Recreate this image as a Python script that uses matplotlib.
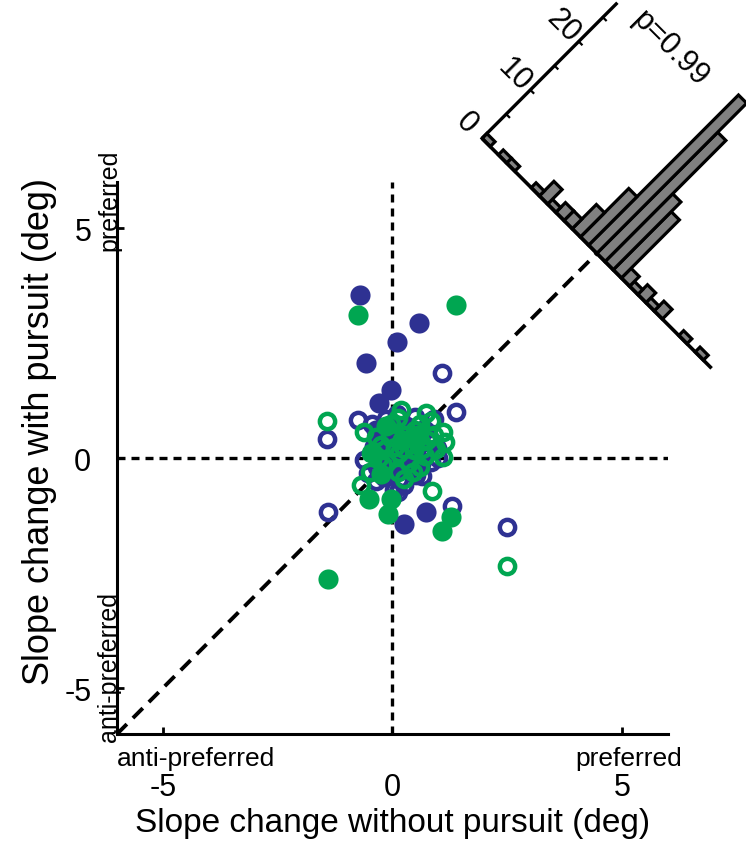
import numpy as np
import matplotlib
matplotlib.use("Agg")
import matplotlib.pyplot as plt
from matplotlib.patches import Rectangle
from matplotlib.transforms import Affine2D

plt.rcParams['font.family'] = ['Liberation Sans', 'DejaVu Sans']
plt.rcParams['axes.unicode_minus'] = False

BLUE = '#2E3192'
GREEN = '#00A651'

# filled circles
fb_x = [-0.71, 0.58, 0.09, -0.57, -0.04, -0.30, 0.25, 0.72, -0.25, 0.05, 0.20, -0.40, 0.35, -0.10, 0.50, 0.10,
        0.30, 0.00, -0.20, 0.15, 0.40, -0.35, 0.25, 0.00]
fb_y = [3.54, 2.93, 2.53, 2.07, 1.48, 1.20, -1.43, -1.17, 0.55, 0.35, 0.15, 0.25, 0.50, 0.00, 0.25, 0.10,
        0.70, 0.60, 0.30, 0.45, -0.15, 0.60, 0.00, -0.20]
fg_x = [-0.76, 1.39, -0.52, -0.04, -0.09, 1.27, 1.07, -1.41, -0.43, 0.20, -0.15, -0.25, 0.55]
fg_y = [3.11, 3.33, -0.90, -0.90, -1.22, -1.29, -1.58, -2.64, 0.10, 0.40, 0.70, -0.35, 0.50]

# open circles
ob_x = [1.07, -0.76, 1.39, -1.43, -1.41, 0.11, 1.29, 2.50, -0.29, 0.33, 0.80, 0.98, -0.62, 0.04, 0.33,
        0.62, 0.83, -0.54, -0.18, 0.51, 0.04, 0.25, -0.33, 0.15, 0.45, 0.60, 0.20, 0.70, -0.10, 0.40,
        0.55, 0.75, 0.30, 0.00, -0.45, 0.90, 0.10, -0.35, 0.65, 0.15, 1.00, -0.15, 0.50, 0.85]
ob_y = [1.84, 0.83, 1.01, 0.41, -1.17, -0.73, -1.04, -1.51, 0.50, 0.68, 0.46, 0.21, -0.04, 0.07, 0.00,
        -0.12, -0.08, -0.33, -0.41, -0.37, -0.70, -0.59, -0.19, 0.30, 0.55, 0.30, -0.20, 0.60, 0.20, 0.10,
        0.00, 0.15, 0.35, -0.30, 0.75, 0.85, 0.95, -0.50, -0.40, -0.45, 0.00, 0.85, 0.90, 0.35]
og_x = [-1.43, -0.69, 0.86, 2.50, 0.18, 0.72, -0.62, -0.04, -0.25, 1.09, 1.09, -0.47, 0.11, 0.54, 0.47,
        -0.11, 0.11, 0.30, 0.60, 0.15, 0.40, 0.75, -0.20, 0.25, 0.50, 0.65, 0.90, 0.35, 0.85, -0.05,
        -0.35, 0.95, 0.25, -0.50, 0.60, 0.05, 0.70, 0.45, -0.30, 1.15]
og_y = [0.80, -0.59, -0.71, -2.35, 1.04, 0.97, 0.57, 0.75, 0.28, 0.57, 0.03, 0.10, -0.30, 0.43, 0.17,
        -0.08, 0.86, 0.50, 0.75, 0.10, 0.30, 0.40, -0.15, 0.20, 0.60, 0.20, 0.50, -0.10, 0.80, 0.45,
        0.45, 0.20, -0.45, -0.30, -0.20, 0.25, 0.05, -0.30, 0.00, 0.35]

# histogram of (with - without), 28 bins from -5 to 5
hist_counts = [0, 1, 0, 1, 0, 0, 2, 1, 2, 1, 2, 12, 14, 25, 31, 10, 5, 2, 2, 1, 3, 1, 0, 0, 1, 1, 0, 1]
hist_edges = np.linspace(-5, 5, len(hist_counts) + 1)
count_ticks = [0, 10, 20]
p_text = 'p=0.99'

fig = plt.figure(figsize=(7.46, 8.53), dpi=100)
ax = fig.add_axes([0.1568, 0.1383, 0.7386, 0.6471])
ax.set_xlim(-6, 6)
ax.set_ylim(-6, 6)

# reference lines
ax.plot([0, 0], [-6, 6], color='k', lw=2.4, ls=(0, (2.4, 1.8)), zorder=1)
ax.plot([-6, 6], [0, 0], color='k', lw=2.4, ls=(0, (2.4, 1.8)), zorder=1)
ax.plot([-6, 4.45], [-6, 4.45], color='k', lw=2.8, ls=(0, (3.6, 2.2)), zorder=1)

ax.plot(fb_x, fb_y, 'o', color=BLUE, ms=14.5, mec='none', zorder=3)
ax.plot(ob_x, ob_y, 'o', mfc='none', mec=BLUE, ms=11, mew=3.2, zorder=3)
ax.plot(fg_x, fg_y, 'o', color=GREEN, ms=14.5, mec='none', zorder=3)
ax.plot(og_x, og_y, 'o', mfc='none', mec=GREEN, ms=11, mew=3.2, zorder=3)

for side in ['top', 'right']:
    ax.spines[side].set_visible(False)
for side in ['left', 'bottom']:
    ax.spines[side].set_linewidth(2.2)
ax.set_xticks([-5, 0, 5])
ax.set_yticks([-5, 0, 5])
ax.tick_params(direction='in', length=5, width=2, labelsize=22)
ax.tick_params(axis='x', pad=27)
ax.tick_params(axis='y', pad=18.5)

ax.set_xlabel('Slope change without pursuit (deg)', fontsize=24)
ax.xaxis.set_label_coords(0.5, -0.133)
ax.set_ylabel('Slope change with pursuit (deg)', fontsize=26)
ax.yaxis.set_label_coords(-0.108, 0.55)

ax.text(-6.0, -6.52, 'anti-preferred', fontsize=19, ha='left', va='center', clip_on=False)
ax.text(6.3, -6.52, 'preferred', fontsize=19, ha='right', va='center', clip_on=False)
ax.text(-6.17, 6.72, 'preferred', fontsize=18, rotation=90, ha='center', va='top', clip_on=False)
ax.text(-6.17, -6.15, 'anti-preferred', fontsize=18, rotation=90, ha='center', va='bottom', clip_on=False)

# rotated histogram: s = y - x along the anti-diagonal, counts along the diagonal
cx, cy = 4.45, 4.45
k2 = 0.1053
tr = Affine2D(np.array([[-0.5, k2, cx], [0.5, k2, cy], [0, 0, 1]])) + ax.transData

for lo, hi, n in zip(hist_edges[:-1], hist_edges[1:], hist_counts):
    if n > 0:
        ax.add_patch(Rectangle((lo, 0), hi - lo, n, transform=tr, facecolor='#808080',
                               edgecolor='k', lw=2.3, clip_on=False, zorder=4))
ax.plot([-5, 5], [0, 0], color='k', lw=2.6, transform=tr, clip_on=False, zorder=5,
        solid_capstyle='butt')
ax.plot([5, 5], [0, 28], color='k', lw=2.4, transform=tr, clip_on=False, zorder=5,
        solid_capstyle='butt')
for c in range(0, 30, 5):
    ax.plot([5, 4.87], [c, c], color='k', lw=1.6, transform=tr, clip_on=False, zorder=5)
for c in count_ticks:
    ax.text(5.68, c, str(c), transform=tr, fontsize=22, rotation=-45,
            ha='center', va='center', clip_on=False)
ax.text(2.9, 28.8, p_text, transform=tr, fontsize=22, rotation=-45,
        ha='center', va='center', clip_on=False)

fig.savefig('out.png', dpi=100)
